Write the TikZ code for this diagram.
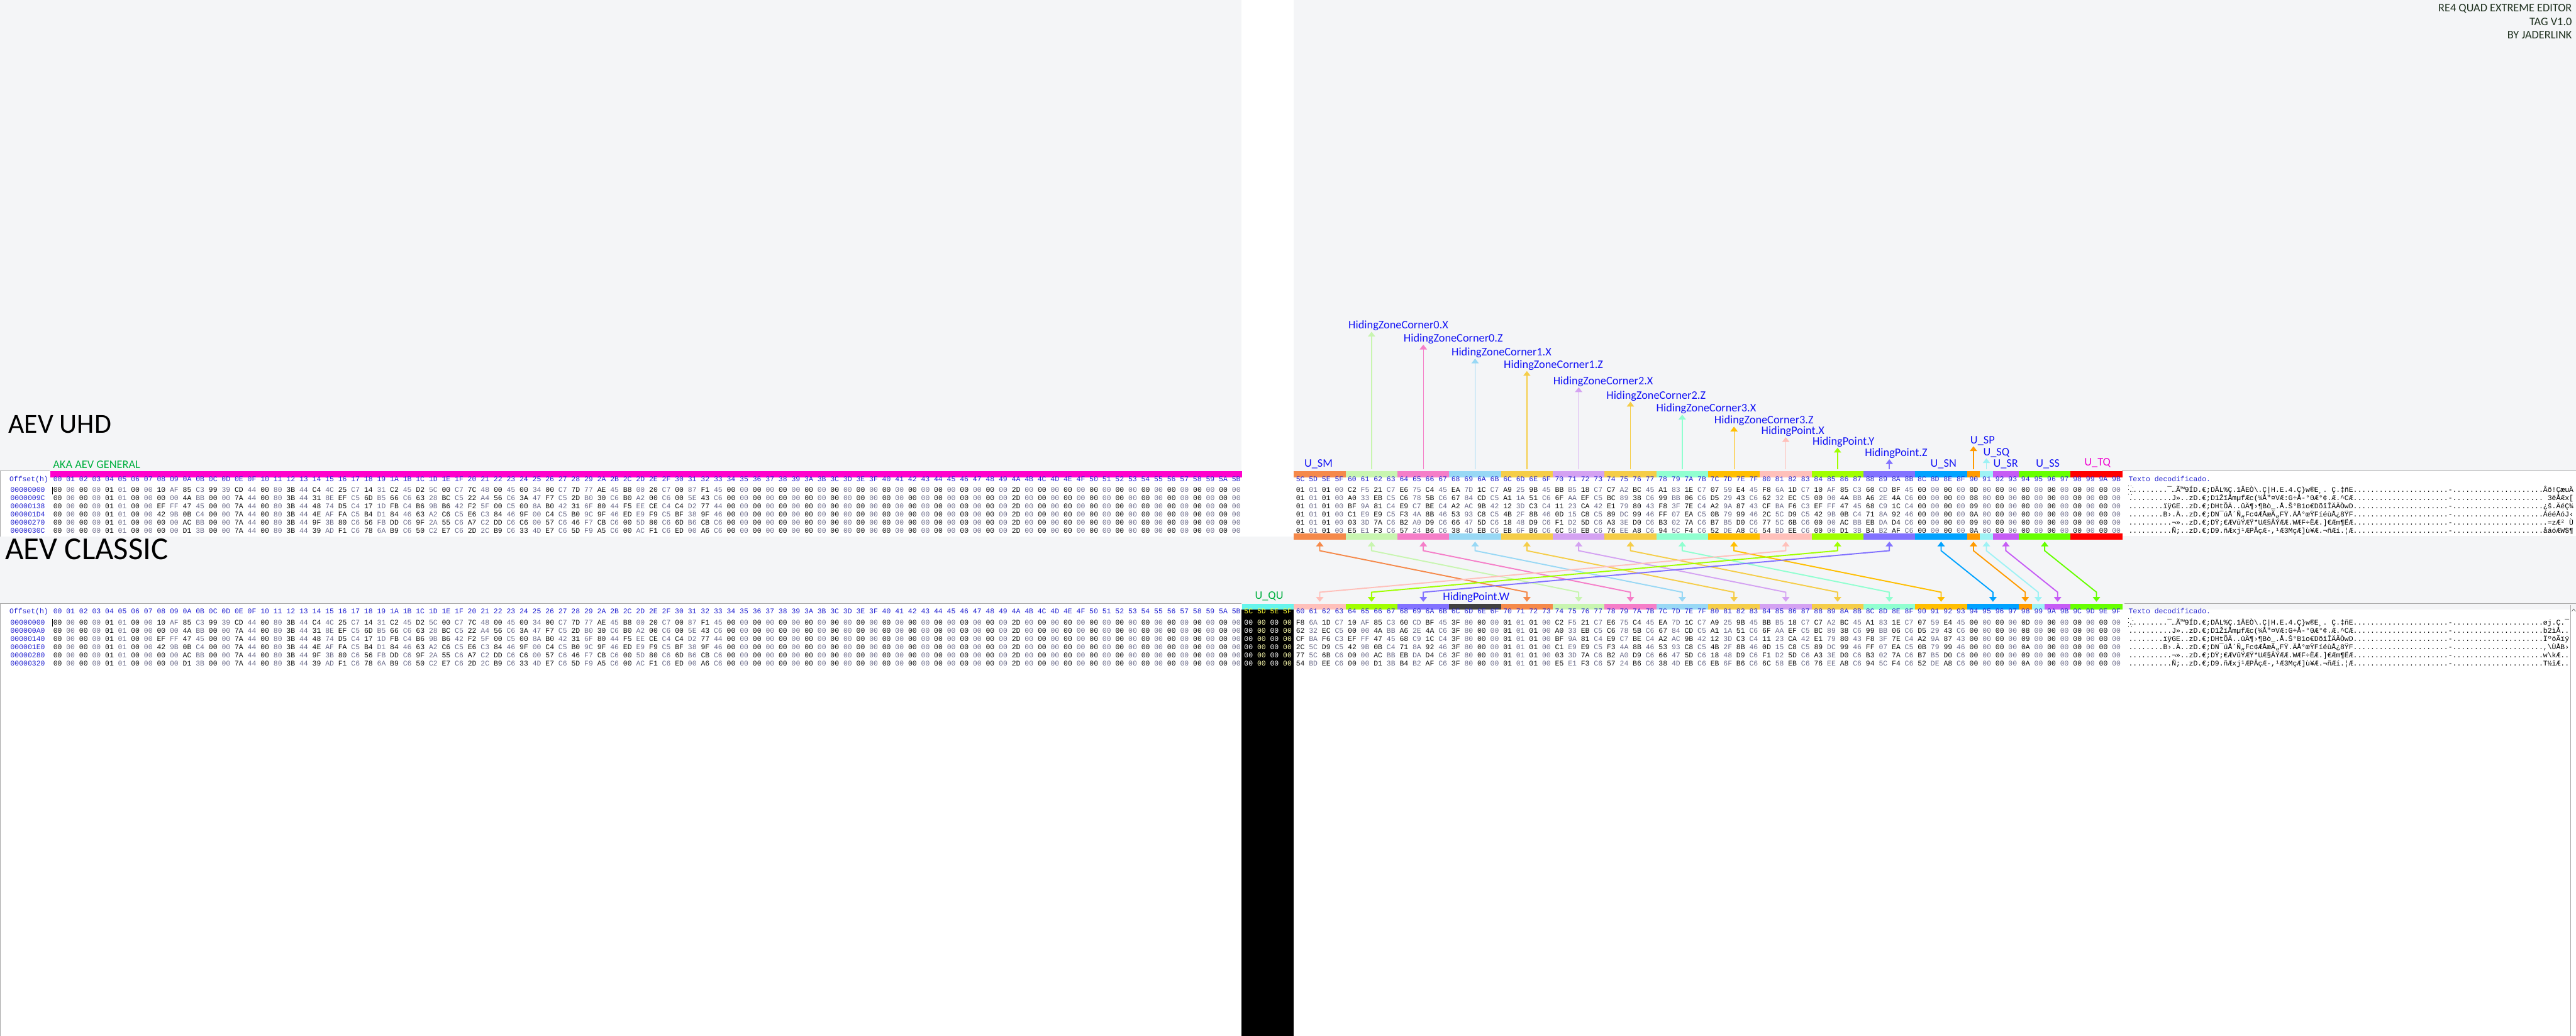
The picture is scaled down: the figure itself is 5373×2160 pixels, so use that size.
\documentclass[tikz,border=0pt]{standalone}
\usepackage{fontspec}
\setmainfont{Carlito}
\newfontfamily\hexfont{Liberation Mono}
\usetikzlibrary{arrows.meta}

\definecolor{paper}{HTML}{F4F5F7}
\definecolor{panelLine}{HTML}{A8A8A8}
\definecolor{lblBlue}{HTML}{1414F5}
\definecolor{lblGreen}{HTML}{00B040}
\definecolor{lblMagenta}{HTML}{F000D0}
\definecolor{titleInk}{HTML}{1C2E1C}
\definecolor{hexHead}{HTML}{2020D0}
\definecolor{hexEven}{HTML}{101010}
\definecolor{hexOdd}{HTML}{6A6A88}
\definecolor{selHead}{HTML}{FFFF30}
\definecolor{selEven}{HTML}{FFFFFF}
\definecolor{selOdd}{HTML}{FFFFB0}
% field colours
\definecolor{cGen}{HTML}{FF00CC}
\definecolor{cSM}{HTML}{F5894A}
\definecolor{cZ0X}{HTML}{C8F5B0}
\definecolor{cZ0Z}{HTML}{F57EC8}
\definecolor{cZ1X}{HTML}{98D8F5}
\definecolor{cZ1Z}{HTML}{F5CD48}
\definecolor{cZ2X}{HTML}{D4A2F2}
\definecolor{cZ2Z}{HTML}{F5CD48}
\definecolor{cZ3X}{HTML}{90FFD0}
\definecolor{cZ3Z}{HTML}{FFBE00}
\definecolor{cPX}{HTML}{FFC0BA}
\definecolor{cPY}{HTML}{A0FF00}
\definecolor{cPZ}{HTML}{8272FF}
\definecolor{cPW}{HTML}{404040}
\definecolor{cSN}{HTML}{00A2FF}
\definecolor{cSP}{HTML}{FF9A00}
\definecolor{cSQ}{HTML}{9EF2F5}
\definecolor{cSR}{HTML}{C65CF5}
\definecolor{cSS}{HTML}{66FF00}
\definecolor{cTQ}{HTML}{FF0000}
\definecolor{cQU}{HTML}{66F5EC}

\newlength\hexcell
\setlength\hexcell{0.27cm}

% windows-1252 glyphs for 80-9F
\newcommand\cpdef[2]{\expandafter\def\csname cp#1\endcsname{#2}}
\cpdef{80}{\symbol{"20AC}}\cpdef{81}{.}\cpdef{82}{\symbol{"201A}}\cpdef{83}{\symbol{"0192}}
\cpdef{84}{\symbol{"201E}}\cpdef{85}{\symbol{"2026}}\cpdef{86}{\symbol{"2020}}\cpdef{87}{\symbol{"2021}}
\cpdef{88}{\symbol{"02C6}}\cpdef{89}{\symbol{"2030}}\cpdef{8A}{\symbol{"0160}}\cpdef{8B}{\symbol{"2039}}
\cpdef{8C}{\symbol{"0152}}\cpdef{8D}{.}\cpdef{8E}{\symbol{"017D}}\cpdef{8F}{.}
\cpdef{90}{.}\cpdef{91}{\symbol{"2018}}\cpdef{92}{\symbol{"2019}}\cpdef{93}{\symbol{"201C}}
\cpdef{94}{\symbol{"201D}}\cpdef{95}{\symbol{"2022}}\cpdef{96}{\symbol{"2013}}\cpdef{97}{\symbol{"2014}}
\cpdef{98}{\symbol{"02DC}}\cpdef{99}{\symbol{"2122}}\cpdef{9A}{\symbol{"0161}}\cpdef{9B}{\symbol{"203A}}
\cpdef{9C}{\symbol{"0153}}\cpdef{9D}{.}\cpdef{9E}{\symbol{"017E}}\cpdef{9F}{\symbol{"0178}}

\newcommand\decbyte[1]{%
  \ifnum"#1<"20 .\else
  \ifnum"#1="7F .\else
  \ifnum"#1="AD .\else
  \ifnum"#1<"80 \symbol{"#1}\else
  \ifnum"#1<"A0 \csname cp#1\endcsname\else
  \symbol{"#1}\fi\fi\fi\fi\fi}
% decoded text: bytes, number of characters that fit
\newcommand\decrun[2]{\foreach \hb [count=\hc] in #1{\ifnum\hc>#2\relax\else\decbyte{\hb}\fi}}

% one run of bytes: first column, bytes, even colour, odd colour
\newcommand\hexrun[4]{%
  \foreach \hb [count=\hc from #1] in #2{%
    \ifodd\hc\relax\color{#4}\else\color{#3}\fi
    \makebox[\hexcell]{\hb}}}
\newcommand\hexhead[2]{%
  \foreach \hc in {#1,...,#2}{%
    \pgfmathparse{Hex(\hc)}%
    \makebox[\hexcell]{\ifnum\hc<16 0\fi\pgfmathresult}}}

% record data: 00-5B, 5C-7F, 80-8B, 8C-97
\def\padRun{00,00,00,00,00,00,00,00,00,00,00,00,00,00,00,00,00,00,00,00,00,00,2D,00,00,00,00,00,00,00,00,00,00,00,00,00,00,00,00,00}
\def\headA{00,00,00,00,01,01,00,00,10,AF,85,C3,99,39,CD,44,00,80,3B,44,C4,4C,25,C7,14,31,C2,45,D2,5C,00,C7,7C,48,00,45,00,34,00,C7,7D,77,AE,45,B8,00,20,C7,00,87,F1,45,\padRun}
\def\headB{00,00,00,00,01,01,00,00,00,00,4A,BB,00,00,7A,44,00,80,3B,44,31,8E,EF,C5,6D,B5,66,C6,63,28,BC,C5,22,A4,56,C6,3A,47,F7,C5,2D,B0,30,C6,B0,A2,00,C6,00,5E,43,C6,\padRun}
\def\headC{00,00,00,00,01,01,00,00,EF,FF,47,45,00,00,7A,44,00,80,3B,44,48,74,D5,C4,17,1D,FB,C4,B6,9B,B6,42,F2,5F,00,C5,00,8A,B0,42,31,6F,80,44,F5,EE,CE,C4,C4,D2,77,44,\padRun}
\def\headD{00,00,00,00,01,01,00,00,42,9B,0B,C4,00,00,7A,44,00,80,3B,44,4E,AF,FA,C5,B4,D1,84,46,63,A2,C6,C5,E6,C3,84,46,9F,00,C4,C5,B0,9C,9F,46,ED,E9,F9,C5,BF,38,9F,46,\padRun}
\def\headE{00,00,00,00,01,01,00,00,00,00,AC,BB,00,00,7A,44,00,80,3B,44,9F,3B,80,C6,56,FB,DD,C6,9F,2A,55,C6,A7,C2,DD,C6,C6,00,57,C6,46,F7,CB,C6,00,5D,80,C6,6D,B6,CB,C6,\padRun}
\def\headF{00,00,00,00,01,01,00,00,00,00,D1,3B,00,00,7A,44,00,80,3B,44,39,AD,F1,C6,78,6A,B9,C6,50,C2,E7,C6,2D,2C,B9,C6,33,4D,E7,C6,5D,F9,A5,C6,00,AC,F1,C6,ED,00,A6,C6,\padRun}
\def\zoneA{01,01,01,00,C2,F5,21,C7,E6,75,C4,45,EA,7D,1C,C7,A9,25,9B,45,BB,B5,18,C7,C7,A2,BC,45,A1,83,1E,C7,07,59,E4,45}
\def\zoneB{01,01,01,00,A0,33,EB,C5,C6,78,5B,C6,67,84,CD,C5,A1,1A,51,C6,6F,AA,EF,C5,BC,89,38,C6,99,BB,06,C6,D5,29,43,C6}
\def\zoneC{01,01,01,00,BF,9A,81,C4,E9,C7,BE,C4,A2,AC,9B,42,12,3D,C3,C4,11,23,CA,42,E1,79,80,43,F8,3F,7E,C4,A2,9A,87,43}
\def\zoneD{01,01,01,00,C1,E9,E9,C5,F3,4A,8B,46,53,93,C8,C5,4B,2F,8B,46,0D,15,C8,C5,89,DC,99,46,FF,07,EA,C5,0B,79,99,46}
\def\zoneE{01,01,01,00,03,3D,7A,C6,B2,A0,D9,C6,66,47,5D,C6,18,48,D9,C6,F1,D2,5D,C6,A3,3E,D0,C6,B3,02,7A,C6,B7,B5,D0,C6}
\def\zoneF{01,01,01,00,E5,E1,F3,C6,57,24,B6,C6,38,4D,EB,C6,EB,6F,B6,C6,6C,58,EB,C6,76,EE,A8,C6,94,5C,F4,C6,52,DE,A8,C6}
\def\ptA{F8,6A,1D,C7,10,AF,85,C3,60,CD,BF,45}
\def\ptB{62,32,EC,C5,00,00,4A,BB,A6,2E,4A,C6}
\def\ptC{CF,BA,F6,C3,EF,FF,47,45,68,C9,1C,C4}
\def\ptD{2C,5C,D9,C5,42,9B,0B,C4,71,8A,92,46}
\def\ptE{77,5C,6B,C6,00,00,AC,BB,EB,DA,D4,C6}
\def\ptF{54,BD,EE,C6,00,00,D1,3B,B4,B2,AF,C6}
\def\tailA{00,00,00,00,0D,00,00,00,00,00,00,00}
\def\tailB{00,00,00,00,08,00,00,00,00,00,00,00}
\def\tailC{00,00,00,00,09,00,00,00,00,00,00,00}
\def\tailD{00,00,00,00,0A,00,00,00,00,00,00,00}
\def\tailE{00,00,00,00,09,00,00,00,00,00,00,00}
\def\tailF{00,00,00,00,0A,00,00,00,00,00,00,00}

\begin{document}
\begin{tikzpicture}[x=0.01cm, y=-0.01cm,
    hexline/.style={anchor=base west, inner sep=0pt,
                    font=\hexfont\fontsize{4.27pt}{5pt}\selectfont},
    hexhd/.style={hexline, text=hexHead},
    bar/.style={anchor=north west, inner sep=0pt, minimum height=0.13cm},
    lbl/.style={anchor=west, inner sep=0pt, text height=0.17cm, text depth=0.05cm,
                font=\fontsize{6.83pt}{8pt}\selectfont, text=lblBlue},
    big/.style={anchor=west, inner sep=0pt},
    edge/.style={draw=panelLine, line width=0.012cm},
    uparr/.style={-{Triangle[width=0.15cm,length=0.1cm]}, line width=0.018cm,
                  shorten <=0.04cm},
    link/.style={{Triangle[width=0.15cm,length=0.1cm]}-{Triangle[width=0.15cm,length=0.1cm]},
                 line width=0.025cm, shorten <=0.03cm, shorten >=0.03cm}]

  \useasboundingbox (0,0) rectangle (5373,2160);
  \clip (0,0) rectangle (5373,2160);
  \fill[paper] (0,0) rectangle (5373,2160);

  % panels
  \fill[white] (0,982) rectangle (2590,1119);
  \fill[white] (2590,0) rectangle (2698,1119);
  \fill[white] (2698,982) rectangle (5373,1118);
  \draw[edge] (0,1119) -- (0,982) -- (104,982);
  \draw[edge] (4426,982) -- (5373,982);
  \fill[white] (0,1258) rectangle (2590,2160);
  \fill[black] (2590,1271) rectangle (2698,2160);
  \fill[white] (2698,1271) rectangle (5373,2160);
  \draw[edge] (0,2160) -- (0,1258) -- (2590,1258);
  \draw[edge] (4431,1258) -- (5373,1258);
  \draw[edge] (5362,1262) -- (5362,2160);
  \draw[panelLine!60!black, line width=0.01cm] (5364,1275) -- (5368,1270) -- (5372,1275);

  % titles
  \node[big, font=\fontsize{16.3pt}{18pt}\selectfont] (uhd) at (17,885) {AEV UHD};
  \node[big, font=\fontsize{19pt}{21pt}\selectfont] (classic) at (10,1145) {AEV CLASSIC};
  \node[anchor=north east, align=right, inner sep=0pt, text=titleInk,
        font=\fontsize{6.83pt}{8.1pt}\selectfont] (title) at (5365,8)
        {RE4 QUAD EXTREME EDITOR\\TAG V1.0\\BY JADERLINK};
  \node[lbl, text=lblGreen] (general) at (110,970) {AKA AEV GENERAL};
  \node[bar, fill=cGen, minimum width=2486*0.01cm] (genBar) at (104,982) {};

  % field bars, UHD record (upper and lower) and classic record
  \foreach \hx/\c/\n/\segc in {5C/92/4/cSM, 60/96/4/cZ0X, 64/100/4/cZ0Z, 68/104/4/cZ1X,
      6C/108/4/cZ1Z, 70/112/4/cZ2X, 74/116/4/cZ2Z, 78/120/4/cZ3X, 7C/124/4/cZ3Z,
      80/128/4/cPX, 84/132/4/cPY, 88/136/4/cPZ, 8C/140/4/cSN, 90/144/1/cSP,
      91/145/1/cSQ, 92/146/2/cSR, 94/148/4/cSS, 98/152/4/cTQ}{
    \node[bar, fill=\segc, minimum width=\n*\hexcell] (tu\hx) at ({106+27*(\c+4)},982) {};
    \node[bar, fill=\segc, minimum width=\n*\hexcell] (tl\hx) at ({106+27*(\c+4)},1112) {};
  }
  \foreach \hx/\c/\n/\segc in {5C/92/4/cQU, 60/96/4/cPX, 64/100/4/cPY, 68/104/4/cPZ,
      6C/108/4/cPW, 70/112/4/cSM, 74/116/4/cZ0X, 78/120/4/cZ0Z, 7C/124/4/cZ1X,
      80/128/4/cZ1Z, 84/132/4/cZ2X, 88/136/4/cZ2Z, 8C/140/4/cZ3X, 90/144/4/cZ3Z,
      94/148/4/cSN, 98/152/1/cSP, 99/153/1/cSQ, 9A/154/2/cSR, 9C/156/4/cSS}{
    \node[bar, fill=\segc, minimum width=\n*\hexcell] (b\hx) at ({106+27*\c},1258) {};
  }

  % column headers
  \node[hexhd] (uhdHead) at (19,1004) {Offset(h)};
  \node[hexhd] (uhdColsL) at (106,1004) {\hexhead{0}{91}};
  \node[hexhd] (uhdColsR) at (2698,1004) {\hexhead{92}{155}};
  \node[hexhd] (uhdTxtHead) at (4439,1004) {Texto decodificado.};
  \node[hexhd] (clsHead) at (19,1280) {Offset(h)};
  \node[hexhd] (clsColsL) at (106,1280) {\hexhead{0}{91}};
  \node[hexhd, text=selHead] (clsColsS) at (2590,1280) {\hexhead{92}{95}};
  \node[hexhd] (clsColsR) at (2698,1280) {\hexhead{96}{159}};
  \node[hexhd] (clsTxtHead) at (4439,1280) {Texto decodificado.};

  % records
  \foreach \r/\k/\offU/\offC in {A/0/00000000/00000000, B/1/0000009C/000000A0,
      C/2/00000138/00000140, D/3/000001D4/000001E0, E/4/00000270/00000280,
      F/5/0000030C/00000320}{
    \edef\rowHead{\csname head\r\endcsname}
    \edef\rowTop{\csname zone\r\endcsname,\csname pt\r\endcsname,\csname tail\r\endcsname,00,00,00,00}
    \edef\rowBot{\csname pt\r\endcsname,3F,80,00,00,\csname zone\r\endcsname,\csname tail\r\endcsname}
    \edef\rowTxtU{\rowHead,\rowTop}
    \edef\rowTxtC{\rowHead,00,00,00,00,\rowBot}
    \node[hexhd] (uhdOff\r) at (21,1027+17*\k) {\offU};
    \node[hexline] (uhdL\r) at (106,1027+17*\k) {\hexrun{0}{\rowHead}{hexEven}{hexOdd}};
    \node[hexline] (uhdR\r) at (2698,1027+17*\k) {\hexrun{92}{\rowTop}{hexEven}{hexOdd}};
    \node[hexline] (uhdTxt\r) at (4439,1027+17*\k) {\decrun{\rowTxtU}{103}};
    \node[hexhd] (clsOff\r) at (21,1303+17*\k) {\offC};
    \node[hexline] (clsL\r) at (106,1303+17*\k) {\hexrun{0}{\rowHead}{hexEven}{hexOdd}};
    \node[hexline] (clsS\r) at (2590,1303+17*\k) {\hexrun{92}{{00,00,00,00}}{selEven}{selOdd}};
    \node[hexline] (clsR\r) at (2698,1303+17*\k) {\hexrun{96}{\rowBot}{hexEven}{hexOdd}};
    \node[hexline] (clsTxt\r) at (4439,1303+17*\k) {\decrun{\rowTxtC}{102}};
  }
  % cursors
  \draw[black, line width=0.012cm] (110,1015) -- (110,1031);
  \draw[black, line width=0.012cm] (110,1291) -- (110,1307);
  \draw[black, dotted, line width=0.01cm] (4439,1013) rectangle (4448,1031);
  \draw[black, dotted, line width=0.01cm] (4439,1289) rectangle (4448,1307);

  % field names
  \node[lbl] (lblZ0X) at (2812,680) {HidingZoneCorner0.X};
  \node[lbl] (lblZ0Z) at (2927,707) {HidingZoneCorner0.Z};
  \node[lbl] (lblZ1X) at (3027,736) {HidingZoneCorner1.X};
  \node[lbl] (lblZ1Z) at (3136,762) {HidingZoneCorner1.Z};
  \node[lbl] (lblZ2X) at (3239,796) {HidingZoneCorner2.X};
  \node[lbl] (lblZ2Z) at (3350,826) {HidingZoneCorner2.Z};
  \node[lbl] (lblZ3X) at (3454,853) {HidingZoneCorner3.X};
  \node[lbl] (lblZ3Z) at (3575,878) {HidingZoneCorner3.Z};
  \node[lbl] (lblPX) at (3673,900) {HidingPoint.X};
  \node[lbl] (lblPY) at (3780,922) {HidingPoint.Y};
  \node[lbl] (lblPZ) at (3889,946) {HidingPoint.Z};
  \node[lbl] (lblSP) at (4109,919) {U\_SP};
  \node[lbl] (lblSQ) at (4136,944) {U\_SQ};
  \node[lbl] (lblSM) at (2720,968) {U\_SM};
  \node[lbl] (lblSN) at (4026,968) {U\_SN};
  \node[lbl] (lblSR) at (4157,968) {U\_SR};
  \node[lbl] (lblSS) at (4246,968) {U\_SS};
  \node[lbl, text=lblMagenta] (lblTQ) at (4347,966) {U\_TQ};
  \node[lbl, text=lblGreen] (lblQU) at (2617,1243) {U\_QU};
  \node[lbl] (lblPW) at (3009,1246) {HidingPoint.W};

  % field name pointers
  \foreach \hx/\lb/\segc in {60/lblZ0X/cZ0X, 64/lblZ0Z/cZ0Z, 68/lblZ1X/cZ1X, 6C/lblZ1Z/cZ1Z,
      70/lblZ2X/cZ2X, 74/lblZ2Z/cZ2Z, 78/lblZ3X/cZ3X, 7C/lblZ3Z/cZ3Z, 80/lblPX/cPX,
      84/lblPY/cPY, 88/lblPZ/cPZ, 90/lblSP/cSP, 91/lblSQ/cSQ}{
    \draw[uparr, draw=\segc] (tu\hx.north) -- (tu\hx.north |- \lb.south);
  }
  % UHD field -> classic field
  \foreach \a/\b/\segc in {5C/70/cSM, 60/74/cZ0X, 64/78/cZ0Z, 68/7C/cZ1X, 6C/80/cZ1Z,
      70/84/cZ2X, 74/88/cZ2Z, 78/8C/cZ3X, 7C/90/cZ3Z, 80/60/cPX, 84/64/cPY, 88/68/cPZ,
      8C/94/cSN, 90/98/cSP, 91/99/cSQ, 92/9A/cSR, 94/9C/cSS}{
    \draw[link, draw=\segc] (tl\a.south) -- ++(0,22) -- ([yshift=0.23cm]b\b.north) -- (b\b.north);
  }
\end{tikzpicture}
\end{document}
